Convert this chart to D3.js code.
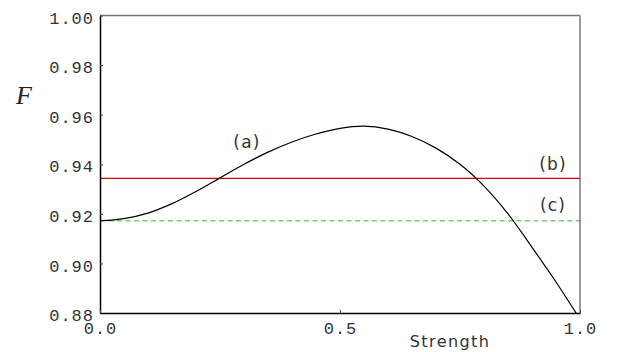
<!DOCTYPE html>
<html><head><meta charset="utf-8">
<script src="https://cdnjs.cloudflare.com/ajax/libs/d3/7.8.5/d3.min.js"></script>
<style>body{margin:0;background:#fff}svg{display:block}</style>
</head><body>
<script>
const strength = [0,0.05,0.10,0.15,0.20,0.25,0.30,0.35,0.40,0.45,0.50,0.55,0.60,0.65,0.70,0.75,0.80,0.85,0.90,0.95,1.00];
const fidelityA = [0.9172,0.9181,0.9203,0.9241,0.9290,0.9345,0.9400,0.9449,0.9490,0.9522,0.9545,0.9554,0.9542,0.9512,0.9465,0.9400,0.9312,0.9200,0.9065,0.8925,0.8775];
const levelB = 0.9343;
const levelC = 0.9172;
const yTicks = [0.88,0.90,0.92,0.94,0.96,0.98,1.00];
const xTicks = [0,0.5,1.0];
const curveLabels = ["(a)","(b)","(c)"];

const W=621,H=352, L=100,R=580,T=15.5,B=313;
const svg=d3.select("body").append("svg").attr("width",W).attr("height",H);
const x=d3.scaleLinear().domain([0,1]).range([L,R]);
const y=d3.scaleLinear().domain([0.88,1.0]).range([B,T]);

svg.append("clipPath").attr("id","c").append("rect").attr("x",L).attr("y",T).attr("width",R-L).attr("height",B-T);
const g=svg.append("g").attr("clip-path","url(#c)");

g.append("line").attr("x1",x(0)).attr("x2",x(1)).attr("y1",y(levelC)).attr("y2",y(levelC))
 .attr("stroke","#7fc97f").attr("stroke-width",1.5).attr("stroke-dasharray","5,3.5");
g.append("line").attr("x1",x(0)).attr("x2",x(1)).attr("y1",y(levelB)).attr("y2",y(levelB))
 .attr("stroke","#cc0000").attr("stroke-width",1.3);
const data=strength.map((s,i)=>[s,fidelityA[i]]);
g.append("path").datum(data).attr("fill","none").attr("stroke","#000").attr("stroke-width",1.2)
 .attr("d",d3.line().x(d=>x(d[0])).y(d=>y(d[1])).curve(d3.curveCatmullRom));

svg.append("line").attr("x1",L).attr("x2",R).attr("y1",T).attr("y2",T).attr("stroke","#777").attr("stroke-width",1.5);
svg.append("line").attr("x1",R).attr("x2",R).attr("y1",T).attr("y2",B).attr("stroke","#777").attr("stroke-width",1.5);

const ya=svg.append("g").attr("transform",`translate(${L},0)`)
 .call(d3.axisLeft(y).tickValues(yTicks).tickFormat(d3.format(".2f")).tickSizeInner(-3).tickSizeOuter(0).tickPadding(6));
const xa=svg.append("g").attr("transform",`translate(0,${B})`)
 .call(d3.axisBottom(x).tickValues(xTicks).tickFormat(d3.format(".1f")).tickSizeInner(-3).tickSizeOuter(0).tickPadding(9));
[ya,xa].forEach(a=>{
  a.select(".domain").attr("stroke","#000").attr("stroke-width",1.5);
  a.selectAll(".tick line").attr("stroke","#444");
  a.selectAll("text").attr("font-family","Liberation Mono, monospace").attr("font-size",17)
   .attr("letter-spacing",1).attr("fill","#333");
});
ya.selectAll("text").attr("dy","0.45em");

svg.append("text").attr("x",450).attr("y",347).attr("text-anchor","middle")
 .attr("font-family","DejaVu Sans, sans-serif").attr("font-size",16).attr("letter-spacing",1.4).attr("fill","#333").text("Strength");
svg.append("text").attr("x",24).attr("y",104).attr("text-anchor","middle")
 .attr("font-family","Liberation Serif, serif").attr("font-style","italic").attr("font-size",26).attr("fill","#222").text("F");

const lab=[[247,147.5],[553,170],[553,211]];
curveLabels.forEach((t,i)=>svg.append("text").attr("x",lab[i][0]).attr("y",lab[i][1]).attr("text-anchor","middle")
 .attr("font-family","DejaVu Sans, sans-serif").attr("font-size",17).attr("letter-spacing",1.2).attr("fill","#333").text(t));
</script>
</body></html>
